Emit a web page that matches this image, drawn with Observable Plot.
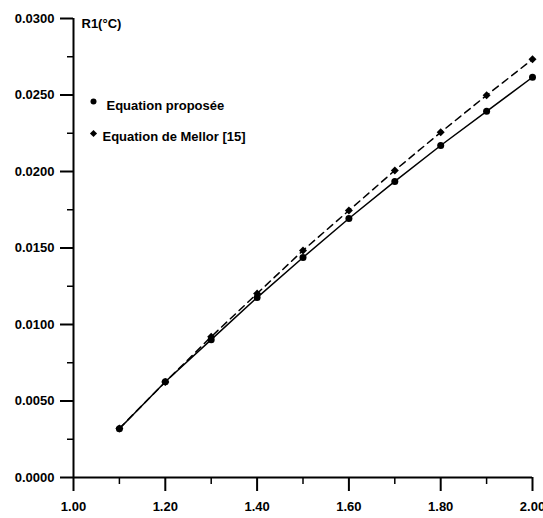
<!DOCTYPE html>
<html>
<head>
<meta charset="utf-8">
<script src="https://cdn.jsdelivr.net/npm/d3@7"></script>
<script src="https://cdn.jsdelivr.net/npm/@observablehq/plot@0.6"></script>
<style>
  html, body { margin: 0; padding: 0; background: #fff; }
</style>
</head>
<body>
<div id="chart"></div>
<script>
const xValues = [1.1, 1.2, 1.3, 1.4, 1.5, 1.6, 1.7, 1.8, 1.9, 2.0];
const proposee = [0.00319, 0.00626, 0.00901, 0.01176, 0.01438, 0.01693, 0.01935, 0.02170, 0.02393, 0.02616];
const mellor = [0.00321, 0.00624, 0.00920, 0.01202, 0.01484, 0.01745, 0.02007, 0.02256, 0.02498, 0.02733];
const xMajorTicks = [1.0, 1.2, 1.4, 1.6, 1.8, 2.0];
const xMinorTicks = [1.1, 1.3, 1.5, 1.7, 1.9];
const yMajorTicks = [0, 0.005, 0.010, 0.015, 0.020, 0.025, 0.030];
const yMinorTicks = [0.0025, 0.0075, 0.0125, 0.0175, 0.0225, 0.0275];
const legendLabels = ["Equation proposée", "Equation de Mellor [15]"];
const yTitle = "R1(°C)";

const dataP = xValues.map((x, i) => ({x, y: proposee[i]}));
const dataM = xValues.map((x, i) => ({x, y: mellor[i]}));

const chart = Plot.plot({
  width: 543,
  height: 518,
  marginLeft: 73,
  marginRight: 11,
  marginTop: 18,
  marginBottom: 41,
  style: {fontFamily: "'Liberation Sans', Arial, sans-serif", fontSize: "13px", fontWeight: "bold", color: "#000", background: "#fff"},
  x: {domain: [1, 2], label: null},
  y: {domain: [0, 0.03], label: null},
  marks: [
    Plot.axisX(xMinorTicks, {tickSize: 7, tickFormat: () => "", strokeWidth: 1.5, label: null}),
    Plot.axisX(xMajorTicks, {tickSize: 14, tickPadding: 10, tickFormat: d3.format(".2f"), strokeWidth: 2, fontSize: 13, fontWeight: "bold", label: null}),
    Plot.axisY(yMinorTicks, {tickSize: 6, tickFormat: () => "", strokeWidth: 1.5, label: null}),
    Plot.axisY(yMajorTicks, {tickSize: 13, tickPadding: 6, tickFormat: d3.format(".4f"), strokeWidth: 2, fontSize: 13, fontWeight: "bold", label: null}),
    Plot.ruleY([0], {strokeWidth: 2}),
    Plot.ruleX([1], {strokeWidth: 2}),
    Plot.line(dataM, {x: "x", y: "y", stroke: "#000", strokeWidth: 1.5, strokeDasharray: "7,5"}),
    Plot.line(dataP, {x: "x", y: "y", stroke: "#000", strokeWidth: 1.5}),
    Plot.dot(dataM, {x: "x", y: "y", symbol: "diamond2", r: 3.6, fill: "#000"}),
    Plot.dot(dataP, {x: "x", y: "y", symbol: "circle", r: 3.5, fill: "#000"}),
    Plot.text([yTitle], {frameAnchor: "top-left", dx: 8, dy: 5, textAnchor: "start", lineAnchor: "middle", fontSize: 13, fontWeight: "bold"}),
    Plot.dot([0], {frameAnchor: "top-left", dx: 20, dy: 83, symbol: "circle", r: 3, fill: "#000"}),
    Plot.dot([0], {frameAnchor: "top-left", dx: 20, dy: 115, symbol: "diamond2", r: 3.2, fill: "#000"}),
    Plot.text([legendLabels[0]], {frameAnchor: "top-left", dx: 33, dy: 87, textAnchor: "start", lineAnchor: "middle", fontSize: 13, fontWeight: "bold"}),
    Plot.text([legendLabels[1]], {frameAnchor: "top-left", dx: 29, dy: 118, textAnchor: "start", lineAnchor: "middle", fontSize: 13, fontWeight: "bold"})
  ]
});
document.getElementById("chart").appendChild(chart);
</script>
</body>
</html>
